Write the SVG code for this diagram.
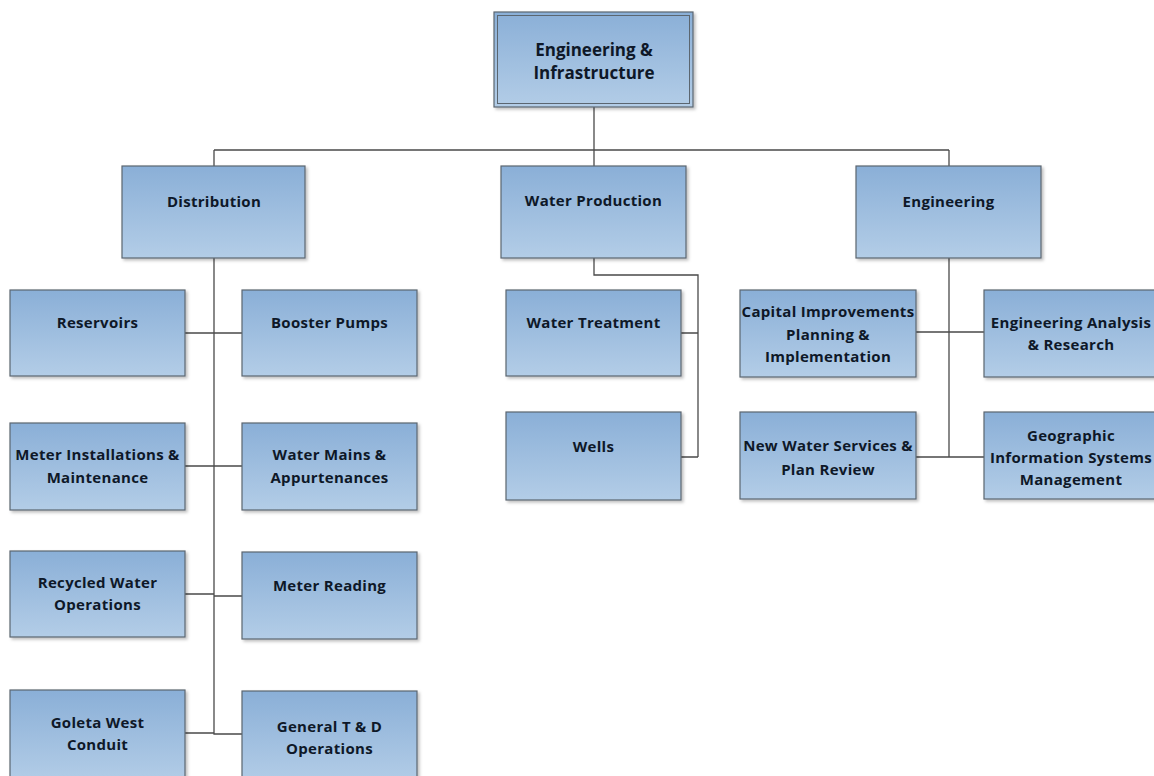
<svg xmlns="http://www.w3.org/2000/svg" width="1154" height="776" viewBox="0 0 1154 776">
<defs>
<linearGradient id="g" x1="0" y1="0" x2="0" y2="1">
<stop offset="0" stop-color="#8aafd7"/>
<stop offset="1" stop-color="#b3cde7"/>
</linearGradient>
<filter id="sh" x="-5%" y="-5%" width="115%" height="115%">
<feDropShadow dx="2" dy="2" stdDeviation="1.5" flood-color="#000" flood-opacity="0.25"/>
</filter>
<style>
.box{fill:url(#g);stroke:#5b6670;stroke-width:1.2;filter:url(#sh)}
.in{fill:none;stroke:#5b6670;stroke-width:1}
.t{font-family:"Open Sans","Noto Sans",sans-serif;font-weight:bold;font-size:15px;letter-spacing:0.3px;fill:#0e1828;text-anchor:middle}
.big{font-size:17px;letter-spacing:0}
.c{fill:none;stroke:#4a4a4a;stroke-width:1.3}
</style>
</defs>
<rect width="1154" height="776" fill="#ffffff"/>
<g id="connectors">
<path class="c" d="M594,107V150M214,150H949M214,150V166M594,150V166M949,150V166"/>
<path class="c" d="M214,258V734M185,333H242M185,466H242M185,594H214M214,596H242M185,733H214V734H242"/>
<path class="c" d="M594,258V275H698V457M681,333H698M681,457H698"/>
<path class="c" d="M949,258V457M916,332H984M916,457H984"/>
</g>
<g id="n-top">
<rect class="box" x="494" y="12" width="199" height="95"/>
<rect class="in" x="497.5" y="15.5" width="192" height="88"/>
<text class="t big" x="594" y="56">Engineering &amp;</text>
<text class="t big" x="594" y="79">Infrastructure</text>
</g>
<g id="n-distribution">
<rect class="box" x="122" y="166" width="183" height="92"/>
<text class="t" x="214" y="207">Distribution</text>
</g>
<g id="n-waterproduction">
<rect class="box" x="501" y="166" width="185" height="92"/>
<text class="t" x="593.5" y="206">Water Production</text>
</g>
<g id="n-engineering">
<rect class="box" x="856" y="166" width="185" height="92"/>
<text class="t" x="948.5" y="207">Engineering</text>
</g>
<g id="n-reservoirs">
<rect class="box" x="10" y="290" width="175" height="86"/>
<text class="t" x="97.5" y="328">Reservoirs</text>
</g>
<g id="n-booster">
<rect class="box" x="242" y="290" width="175" height="86"/>
<text class="t" x="329.5" y="328">Booster Pumps</text>
</g>
<g id="n-meterinst">
<rect class="box" x="10" y="423" width="175" height="87"/>
<text class="t" x="97.5" y="460">Meter Installations &amp;</text>
<text class="t" x="97.5" y="483">Maintenance</text>
</g>
<g id="n-watermains">
<rect class="box" x="242" y="423" width="175" height="87"/>
<text class="t" x="329.5" y="460">Water Mains &amp;</text>
<text class="t" x="329.5" y="483">Appurtenances</text>
</g>
<g id="n-recycled">
<rect class="box" x="10" y="551" width="175" height="86"/>
<text class="t" x="97.5" y="588">Recycled Water</text>
<text class="t" x="97.5" y="610">Operations</text>
</g>
<g id="n-meterreading">
<rect class="box" x="242" y="552" width="175" height="87"/>
<text class="t" x="329.5" y="591">Meter Reading</text>
</g>
<g id="n-goleta">
<rect class="box" x="10" y="690" width="175" height="92"/>
<text class="t" x="97.5" y="728">Goleta West</text>
<text class="t" x="97.5" y="750">Conduit</text>
</g>
<g id="n-general">
<rect class="box" x="242" y="691" width="175" height="92"/>
<text class="t" x="329.5" y="732">General T &amp; D</text>
<text class="t" x="329.5" y="754">Operations</text>
</g>
<g id="n-watertreatment">
<rect class="box" x="506" y="290" width="175" height="86"/>
<text class="t" x="593.5" y="328">Water Treatment</text>
</g>
<g id="n-wells">
<rect class="box" x="506" y="412" width="175" height="88"/>
<text class="t" x="593.5" y="452">Wells</text>
</g>
<g id="n-capital">
<rect class="box" x="740" y="290" width="176" height="87"/>
<text class="t" x="828" y="317">Capital Improvements</text>
<text class="t" x="828" y="340">Planning &amp;</text>
<text class="t" x="828" y="362">Implementation</text>
</g>
<g id="n-analysis">
<rect class="box" x="984" y="290" width="175" height="87"/>
<text class="t" x="1071" y="328">Engineering Analysis</text>
<text class="t" x="1071" y="350">&amp; Research</text>
</g>
<g id="n-newwater">
<rect class="box" x="740" y="412" width="176" height="87"/>
<text class="t" x="828" y="451">New Water Services &amp;</text>
<text class="t" x="828" y="475">Plan Review</text>
</g>
<g id="n-gis">
<rect class="box" x="984" y="412" width="175" height="87"/>
<text class="t" x="1071" y="441">Geographic</text>
<text class="t" x="1071" y="463">Information Systems</text>
<text class="t" x="1071" y="485">Management</text>
</g>
</svg>
